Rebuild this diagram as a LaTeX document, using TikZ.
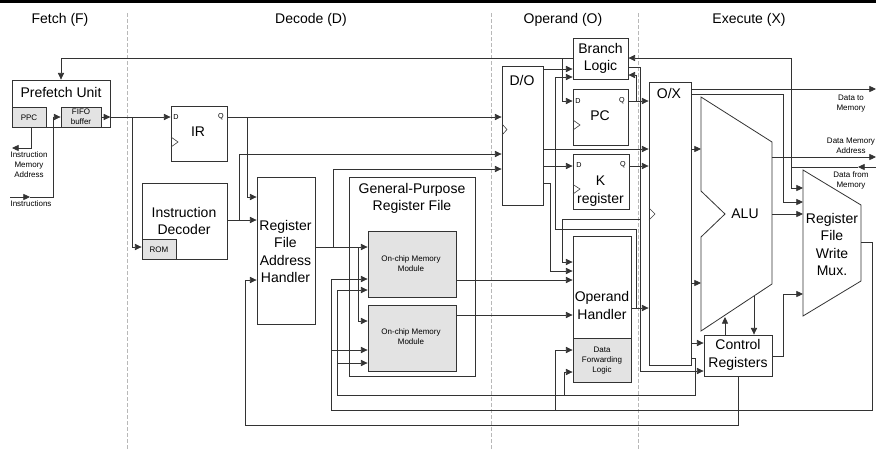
\documentclass[tikz,border=0pt]{standalone}
\usepackage{fontspec}
\setmainfont{Liberation Sans}
\usetikzlibrary{arrows.meta}
\tikzset{
  x=0.75pt,y=-0.75pt,
  big/.style={font=\fontsize{10.5}{13}\selectfont,align=center,inner sep=0pt},
  small/.style={font=\fontsize{6}{7.5}\selectfont,align=center,inner sep=0pt},
  tiny/.style={font=\fontsize{5.4}{6}\selectfont,inner sep=0pt},
  box/.style={draw=black!80,line width=0.6pt,fill=white,inner sep=0pt},
  gbox/.style={box,fill=black!11},
  ln/.style={draw=black!80,line width=0.55pt},
  arr/.style={ln,-{Triangle[length=5pt,width=4.6pt]}},
  phase/.style={draw=black!28,line width=0.6pt,dash pattern=on 3pt off 1.5pt},
  clk/.style={draw=black!75,line width=0.45pt},
}
\newcommand{\pxbox}[6]{\node[#1,minimum width={(#5-#3)*0.75pt},minimum height={(#6-#4)*0.75pt}] (#2) at ({(#3+#5)/2},{(#4+#6)/2}) {};}
\begin{document}
\begin{tikzpicture}
\useasboundingbox (0,0) rectangle (876,451);
\fill[black] (0,0) rectangle (876,3);
% phase separators
\coordinate (s1a) at (127,13); \coordinate (s1b) at (127,450);
\coordinate (s2a) at (491,13); \coordinate (s2b) at (491,450);
\coordinate (s3a) at (638,13); \coordinate (s3b) at (638,450);
\draw[phase] (s1a)--(s1b); \draw[phase] (s2a)--(s2b); \draw[phase] (s3a)--(s3b);
\node[big] (tF) at (60,20) {Fetch (F)};
\node[big] (tD) at (311,20) {Decode (D)};
\node[big] (tO) at (563,20) {Operand (O)};
\node[big] (tX) at (749,20) {Execute (X)};
% boxes
\pxbox{box}{pf}{12}{80}{110}{127}
\pxbox{gbox}{ppc}{12}{107}{46}{127}
\pxbox{gbox}{fifo}{61}{107}{101}{127}
\pxbox{box}{ir}{171}{106}{227}{161}
\pxbox{box}{dec}{142}{183}{227}{259}
\pxbox{gbox}{rom}{142}{239}{176}{259}
\pxbox{box}{rf}{257}{177}{315}{324}
\pxbox{box}{gp}{349}{177}{475}{376}
\pxbox{gbox}{ma}{368}{231}{456}{297}
\pxbox{gbox}{mb}{368}{305}{456}{371}
\pxbox{box}{do}{502}{66}{543}{205}
\pxbox{box}{bl}{573}{38}{628}{79}
\pxbox{box}{pc}{573}{89}{628}{145}
\pxbox{box}{kr}{573}{154}{629}{209}
\pxbox{box}{oh}{573}{236}{631}{338}
\pxbox{gbox}{df}{573}{338}{631}{382}
\pxbox{box}{ox}{649}{82}{691}{365}
\pxbox{box}{cr}{704}{335}{772}{376}
% ALU and write mux
\draw[box] (701,97)--(772,142)--(772,284)--(701,331)--(701,237)--(725,214)--(701,191)--cycle;
\draw[box] (803,170)--(861,205)--(861,281)--(803,316)--cycle;
\coordinate (aluW) at (701,214); \coordinate (aluE) at (772,214);
\coordinate (muxW) at (803,214); \coordinate (muxE) at (861,242);
% clock marks
\draw[clk] (171,137)--(178,142)--(171,147);
\draw[clk] (502,124)--(507,129.5)--(502,135);
\draw[clk] (573,120)--(580,125)--(573,130);
\draw[clk] (573,184.5)--(580,189)--(573,194);
\draw[clk] (649,208)--(655,214)--(649,220);
% box texts
\node[big] (tpf) at (61,92) {Prefetch Unit};
\node[small] (tppc) at (29,117.5) {PPC};
\node[small] (tfifo) at (81,117) {FIFO\\buffer};
\node[big] (tir) at (198,132) {IR};
\node[big] (tdec) at (184,221) {Instruction\\Decoder};
\node[small] (trom) at (159,249.5) {ROM};
\node[big] (trf) at (285.5,251.5) {Register\\File\\Address\\Handler};
\node[big] (tgp) at (412,198.5) {General-Purpose\\Register File};
\node[small] (tma) at (411,264) {On-chip Memory\\Module};
\node[small] (tmb) at (411,337) {On-chip Memory\\Module};
\node[big] (tdo) at (522,80) {D/O};
\node[big] (tbl) at (600.5,58.5) {Branch\\Logic};
\node[big] (tpc) at (600,116) {PC};
\node[big] (tkr) at (600.5,191) {K\\register};
\node[big] (toh) at (602,305.5) {Operand\\Handler};
\node[small] (tdf) at (602,360.5) {Data\\Forwarding\\Logic};
\node[big] (tox) at (669,93) {O/X};
\node[big] (tal) at (745,214) {ALU};
\node[big] (tmx) at (832,244.5) {Register\\File\\Write\\Mux.};
\node[big] (tcr) at (738,355) {Control\\Registers};
% register pin labels
\node[tiny] (ird) at (176,117) {D}; \node[tiny] (irq) at (221,117) {Q};
\node[tiny] (pcd) at (578,101) {D}; \node[tiny] (pcq) at (622,101) {Q};
\node[tiny] (krd) at (579,165) {D}; \node[tiny] (krq) at (623,165) {Q};
% outside labels
\node[small] (tima) at (29,165) {Instruction\\Memory\\Address};
\node[small] (tins) at (31,203.5) {Instructions};
\node[small] (tdm) at (851,104) {Data to\\Memory};
\node[small] (tdma) at (851,146) {Data Memory\\Address};
\node[small] (tdfm) at (851,180) {Data from\\Memory};
% free ends
\coordinate (insIn) at (10,197); \coordinate (insMid) at (30,197);
\coordinate (iaOut) at (12,148);
\coordinate (dmOut) at (876,89); \coordinate (daOut) at (876,157);
\coordinate (dfIn) at (876,167); \coordinate (dfMid) at (858,167);
% fetch
\draw[arr] (bl.west |- 0,58) -| (pf.north -| 61,0);
\draw[arr] (ppc.south -| 31,0) |- (iaOut);
\draw[arr] (insIn) -- (insMid);
\draw[arr] (insMid) -| (53,117) -- (fifo.west);
\draw[arr] (fifo.east) -- (pf.east |- fifo.east);
\draw[arr] (pf.east |- fifo.east) -- (ir.west |- 0,117);
\draw[arr] (132,117) |- (rom.west |- 0,247);
% decode
\draw[arr] (ir.east |- 0,117) -- (do.west |- 0,117);
\draw[arr] (247,117) |- (rf.west |- 0,197);
\draw[arr] (dec.east |- 0,220) -- (rf.west |- 0,220);
\draw[arr] (239,220) |- (do.west |- 0,154);
\draw[arr] (rf.east |- 0,247) -- (ma.west |- 0,247);
\draw[arr] (333,247) |- (do.west |- 0,169);
\draw[arr] (358,247) |- (mb.west |- 0,321);
\draw[arr] (ma.east |- 0,280) -- (oh.west |- 0,280);
\draw[arr] (mb.east |- 0,315) -- (oh.west |- 0,315);
% feedback
\draw[arr] (cr.south) |- (245,425) |- (rf.west |- 0,280);
\draw[arr] (muxE) -- (872,242) -- (872,410) -- (331,410) |- (ma.west |- 0,279);
\draw[arr] (331,350) -- (mb.west |- 0,350);
\draw[arr] (555,410) |- (df.west |- 0,350);
\draw[arr] (ox.east |- 0,358) -- (695,358) -- (695,395.5) -- (337,395.5) |- (ma.west |- 0,290);
\draw[arr] (337,363) -- (mb.west |- 0,363);
\draw[arr] (564,395.5) |- (df.west |- 0,372);
% operand
\draw[arr] (do.east |- 0,69) -- (bl.west |- 0,69);
\draw[arr] (do.east |- 0,149) -- (ox.west |- 0,149);
\draw[arr] (do.east |- 0,166) -- (kr.west |- 0,166);
\draw[arr] (do.east |- 0,183) -- (550,183) |- (oh.west |- 0,271);
\draw[arr] (kr.east |- 0,166) -- (ox.west |- 0,166);
\draw[arr] (pc.east |- 0,101) -- (ox.west |- 0,101);
\draw[arr] (636,101) |- (bl.east |- 0,75);
\draw[arr] (562,58) |- (pc.west |- 0,101);
\draw[arr] (bl.east |- 0,67) -- (640,67) |- (cr.west |- 0,371);
\draw[arr] (640,219) -- (562,219) |- (oh.west |- 0,262);
\draw[arr] (oh.east |- 0,308) -- (ox.west |- 0,308);
\draw[arr] (636,308) -- (636,229) -- (555,229) |- (bl.west |- 0,77);
% execute
\draw[arr] (ox.east |- 0,89) -- (dmOut);
\draw[arr] (ox.east |- 0,94) -- (783,94) |- (muxW |- 0,202);
\draw[arr] (ox.east |- 0,149) -- (aluW |- 0,149);
\draw[arr] (ox.east |- 0,283) -- (aluW |- 0,283);
\draw[arr] (ox.east |- 0,343) -- (cr.west |- 0,343);
\draw[arr] (791,167) |- (bl.east |- 0,58);
\draw[arr] (791,167) |- (muxW |- 0,188);
\draw[arr] (dfIn) -- (dfMid);
\draw[ln] (dfMid) -- (791,167);
\draw[arr] (aluE |- 0,157) -- (daOut);
\draw[arr] (aluE) -- (muxW);
\draw[arr] (cr.east |- 0,356) -- (783,356) |- (muxW |- 0,294);
\draw[arr] (cr.north -| 725,0) -- (725,317);
\draw[arr] (754,296) -- (cr.north -| 754,0);
\end{tikzpicture}
\end{document}
